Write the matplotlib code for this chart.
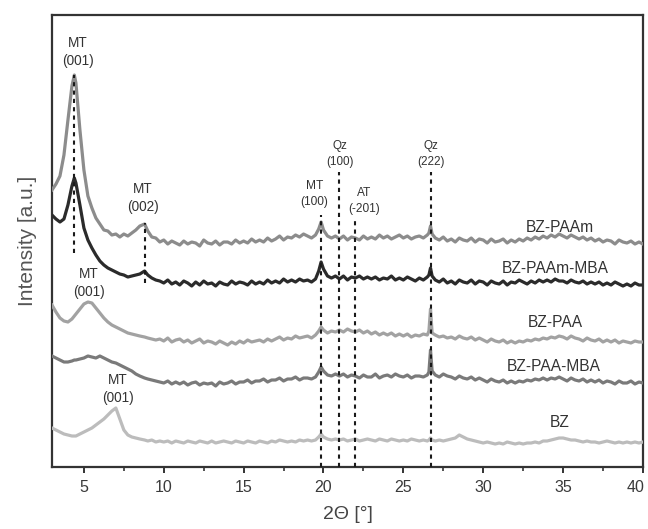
import matplotlib
matplotlib.use("Agg")
import matplotlib.pyplot as plt
from matplotlib.ticker import MultipleLocator, FuncFormatter
from matplotlib.transforms import ScaledTranslation

plt.rcParams['font.family'] = ['Liberation Sans', 'DejaVu Sans']

# 2-theta sampling (degrees)
two_theta = [
    3.0, 3.25, 3.5, 3.75,
    4.0, 4.25, 4.4, 4.5, 4.75,
    5.0, 5.25, 5.5, 5.75,
    6.0, 6.25, 6.5, 6.75,
    7.0, 7.25, 7.5, 7.75,
    8.0, 8.25, 8.5, 8.8,
    9.0, 9.25, 9.5, 9.75,
    10.0, 10.25, 10.5, 10.75,
    11.0, 11.25, 11.5, 11.75,
    12.0, 12.25, 12.5, 12.75,
    13.0, 13.25, 13.5, 13.75,
    14.0, 14.25, 14.5, 14.75,
    15.0, 15.25, 15.5, 15.75,
    16.0, 16.25, 16.5, 16.75,
    17.0, 17.25, 17.5, 17.75,
    18.0, 18.25, 18.5, 18.75,
    19.0, 19.25, 19.5, 19.7, 19.85,
    20.0, 20.25, 20.5, 20.75,
    21.0, 21.25, 21.5, 21.75,
    22.0, 22.25, 22.5, 22.75,
    23.0, 23.25, 23.5, 23.75,
    24.0, 24.25, 24.5, 24.75,
    25.0, 25.25, 25.5, 25.75,
    26.0, 26.25, 26.5, 26.6, 26.7, 26.8,
    27.0, 27.25, 27.5, 27.75,
    28.0, 28.25, 28.5, 28.75,
    29.0, 29.25, 29.5, 29.75,
    30.0, 30.25, 30.5, 30.75,
    31.0, 31.25, 31.5, 31.75,
    32.0, 32.25, 32.5, 32.75,
    33.0, 33.25, 33.5, 33.75,
    34.0, 34.25, 34.5, 34.75,
    35.0, 35.25, 35.5, 35.75,
    36.0, 36.25, 36.5, 36.75,
    37.0, 37.25, 37.5, 37.75,
    38.0, 38.25, 38.5, 38.75,
    39.0, 39.25, 39.5, 39.75,
    40.0,
]

# stacked (offset) intensities, arbitrary units
bz_paam = [
    277, 283, 291, 312,
    347, 381, 392, 384, 337,
    297, 271, 259, 249,
    243, 237, 236, 232,
    233, 230, 233, 231,
    234, 237, 241, 243,
    236, 230, 229, 225,
    227, 223, 226, 224,
    222, 226, 223, 225,
    224, 221, 227, 224,
    223, 226, 222, 225,
    225, 223, 227, 224,
    226, 224, 228, 225,
    227, 225, 229, 226,
    228, 231, 227, 230,
    229, 232, 230, 233,
    231, 229, 232, 238, 245,
    237, 231, 229, 231,
    228, 231, 227, 230,
    229, 227, 231, 228,
    230, 228, 232, 229,
    231, 228, 230, 232,
    229, 231, 228, 230,
    231, 229, 232, 234, 241, 233,
    229, 227, 230, 226,
    228, 225, 229, 227,
    226, 229, 225, 228,
    227, 224, 228, 225,
    226, 228, 224, 227,
    225, 228, 226, 229,
    227, 230, 228, 231,
    229, 232, 230, 233,
    231, 229, 232, 230,
    228, 230, 227, 229,
    226, 228, 225, 227,
    226, 223, 227, 225,
    224, 226, 223, 225,
    223,
]

bz_paam_mba = [
    252, 248, 245, 248,
    262, 281, 289, 284, 262,
    239, 227, 219, 212,
    206, 202, 199, 197,
    195, 193, 192, 190,
    191, 192, 193, 196,
    192, 189, 187, 186,
    184, 187, 183, 185,
    182, 186, 184, 181,
    185, 182, 186, 183,
    184, 181, 185, 183,
    182, 186, 183, 185,
    184, 182, 186, 183,
    185, 183, 187, 184,
    186, 184, 188, 185,
    187, 185, 188, 186,
    187, 185, 188, 196, 205,
    198, 191, 189, 191,
    188, 191, 187, 190,
    189, 191, 188, 190,
    188, 190, 187, 189,
    188, 191, 187, 189,
    187, 190, 188, 186,
    189, 187, 190, 192, 199, 191,
    187, 185, 188, 184,
    186, 183, 187, 185,
    184, 187, 183, 186,
    185, 182, 186, 184,
    183, 186, 182, 185,
    184, 187, 185, 183,
    186, 184, 187, 185,
    187, 185, 188, 186,
    186, 184, 187, 185,
    184, 186, 183, 185,
    183, 185, 182, 184,
    182, 185, 183, 181,
    183, 181, 184, 182,
    182,
]

bz_paa = [
    162, 155, 149, 146,
    145, 148, 151, 153, 158,
    163, 165, 164, 159,
    154, 149, 145, 142,
    140, 138, 136, 134,
    133, 132, 131, 130,
    129, 128, 127, 128,
    126, 129, 125, 127,
    128, 125, 127, 124,
    126, 128, 124, 126,
    125, 123, 126, 124,
    122, 125, 123, 126,
    124, 127, 125, 126,
    127, 125, 128, 126,
    128, 130, 127, 129,
    128, 131, 129, 130,
    131, 129, 132, 136, 140,
    137, 134, 136, 135,
    137, 135, 138, 136,
    135, 137, 134, 136,
    133, 135, 132, 134,
    132, 134, 131, 133,
    131, 133, 130, 132,
    131, 133, 132, 136, 158, 134,
    132, 130, 131, 129,
    130, 128, 131, 129,
    128, 130, 127, 129,
    127, 125, 128, 126,
    125, 127, 124, 126,
    124, 126, 125, 127,
    126, 128, 127, 129,
    128, 130, 129, 131,
    130, 128, 131, 129,
    128, 126, 129, 127,
    126, 128, 125, 127,
    125, 127, 124, 126,
    125, 124, 126, 125,
    125,
]

bz_paa_mba = [
    111, 109, 107, 105,
    105, 106, 107, 107, 108,
    109, 111, 110, 109,
    111, 109, 107, 105,
    104, 102, 100, 98,
    96, 93, 91, 89,
    88, 87, 86, 85,
    84, 86, 83, 85,
    83, 85, 82, 84,
    85, 82, 84, 83,
    84, 81, 85, 83,
    84, 86, 83, 85,
    85, 87, 84, 86,
    86, 88, 85, 87,
    87, 89, 86, 88,
    88, 90, 87, 89,
    89, 88, 90, 95, 100,
    96, 92, 91, 93,
    91, 93, 90, 92,
    91, 89, 92, 90,
    90, 93, 89, 91,
    92, 90, 93, 91,
    90, 92, 89, 91,
    91, 90, 92, 95, 117, 96,
    92, 90, 93, 91,
    90, 88, 91, 89,
    88, 90, 87, 89,
    87, 85, 88, 86,
    85, 87, 84, 86,
    84, 86, 85, 87,
    86, 88, 87, 89,
    87, 89, 88, 90,
    88, 86, 89, 87,
    86, 88, 85, 87,
    85, 87, 84, 86,
    85, 83, 86, 84,
    84, 86, 83, 85,
    84,
]

bz = [
    39, 37, 35, 33,
    32, 31, 31, 31, 33,
    35, 37, 39, 42,
    45, 48, 52, 56,
    59, 48, 37, 32,
    30, 29, 28, 27,
    26, 27, 25, 26,
    25, 26, 24, 26,
    25, 24, 26, 25,
    24, 26, 25, 24,
    26, 24, 25, 26,
    25, 24, 26, 25,
    24, 26, 25, 24,
    26, 25, 24, 26,
    25, 27, 26, 25,
    26, 25, 27, 26,
    27, 26, 27, 30, 33,
    30, 28, 27, 28,
    27, 28, 26, 27,
    28, 26, 27, 28,
    27, 26, 28, 27,
    26, 28, 27, 26,
    27, 26, 28, 27,
    26, 27, 26, 27, 29, 27,
    26, 27, 26, 27,
    28, 29, 32, 30,
    28, 27, 26, 25,
    24, 25, 24, 23,
    24, 23, 25, 24,
    23, 24, 23, 24,
    24, 25, 24, 26,
    26, 27, 28, 29,
    29, 28, 27, 27,
    26, 25, 26, 25,
    25, 24, 25, 26,
    25, 24, 25, 24,
    25, 24, 25, 24,
    25,
]

series_names = ["BZ-PAAm", "BZ-PAAm-MBA", "BZ-PAA", "BZ-PAA-MBA", "BZ"]
series_values = [bz_paam, bz_paam_mba, bz_paa, bz_paa_mba, bz]
series_colors = ["#8c8c8c", "#2b2b2b", "#a2a2a2", "#7a7a7a", "#bcbcbc"]
name_pos_x = [34.8, 34.5, 34.5, 34.4, 34.8]
name_pos_y = [240, 199, 145, 101, 45]

# reflection markers: position, top, bottom
ref_pos = [4.38, 8.83, 19.85, 20.95, 22.0, 26.7]
ref_top = [392, 244, 252, 295, 249, 295]
ref_bottom = [214, 184, 0, 0, 0, 0]

# reflection labels
peak_labels = ["MT\n(001)", "MT\n(002)", "MT\n(100)", "Qz\n(100)", "AT\n(-201)",
               "Qz\n(222)", "MT\n(001)", "MT\n(001)"]
peak_label_x = [4.63, 8.7, 19.43, 21.06, 22.56, 26.7, 5.3, 7.14]
peak_label_y = [415, 269, 273, 313, 266, 313, 184, 78]
peak_label_size = [9.8, 9.8, 8.6, 8.4, 8.6, 8.4, 9.8, 9.8]

x_ticks = [5, 10, 15, 20, 25, 30, 35, 40]

fig = plt.figure(figsize=(6.48, 5.29), dpi=100)
ax = fig.add_axes([0.0802, 0.1172, 0.912, 0.8544])

for vals, col in zip(series_values, series_colors):
    ax.plot(two_theta, vals, color=col, lw=2.3, solid_joinstyle='round', zorder=3)

for xp, yt, yb in zip(ref_pos, ref_top, ref_bottom):
    ax.plot([xp, xp], [yb, yt], color="#1a1a1a", lw=1.5, ls=(0, (2.0, 2.0)), zorder=4)

for name, xp, yp in zip(series_names, name_pos_x, name_pos_y):
    ax.text(xp, yp, name, ha='center', va='center', fontsize=11.2, color="#333333")

for lab, xp, yp, fs in zip(peak_labels, peak_label_x, peak_label_y, peak_label_size):
    ax.text(xp, yp, lab, ha='center', va='center', fontsize=fs, color="#333333",
            linespacing=1.35)

ax.set_xlim(3, 40)
ax.set_ylim(0, 452)
ax.set_yticks([])
ax.set_xticks(x_ticks)
ax.xaxis.set_minor_locator(MultipleLocator(2.5))
# the last label sits at the right edge; it is drawn separately, nudged inward
ax.xaxis.set_major_formatter(FuncFormatter(lambda v, p: "" if v >= 40 else f"{v:g}"))
ax.tick_params(axis='x', which='major', direction='out', length=4, width=1.4,
               labelsize=11.5, labelcolor="#3a3a3a", color="#333333", pad=5)
ax.tick_params(axis='x', which='minor', direction='out', length=3, width=1.2,
               color="#333333")
edge_tf = ax.get_xaxis_transform() + ScaledTranslation(-5 / 72, -9 / 72, fig.dpi_scale_trans)
ax.text(x_ticks[-1], 0, f"{x_ticks[-1]:g}", transform=edge_tf, ha='center', va='top',
        fontsize=11.5, color="#3a3a3a")

for sp in ax.spines.values():
    sp.set_linewidth(1.6)
    sp.set_color("#333333")

ax.set_xlabel("2Θ [°]", fontsize=14, color="#444444", labelpad=8)
ax.set_ylabel("Intensity [a.u.]", fontsize=15, color="#555555", labelpad=11)

fig.savefig("out.png", dpi=100)
